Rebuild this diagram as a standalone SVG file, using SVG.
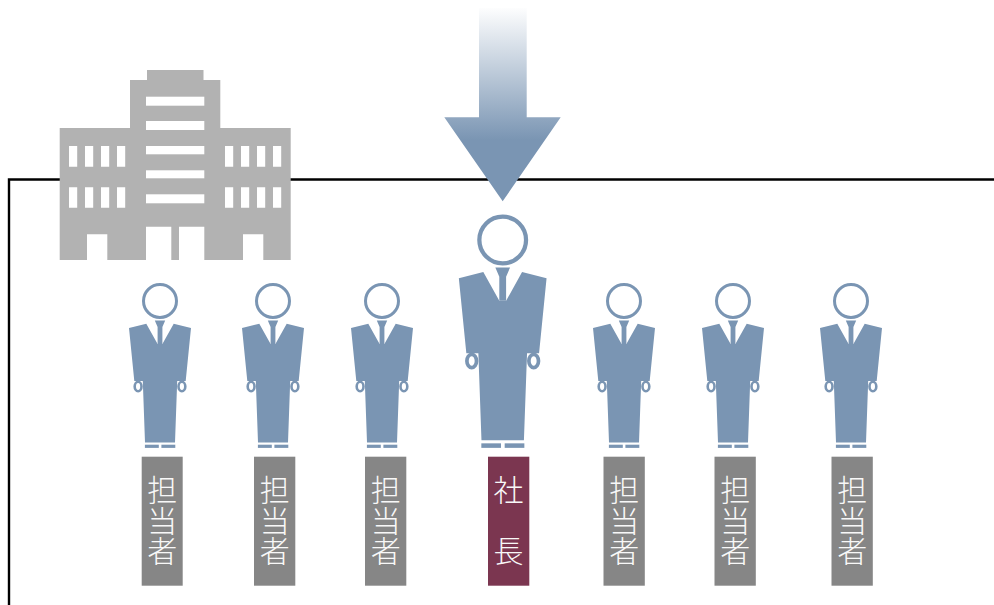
<svg xmlns="http://www.w3.org/2000/svg" xmlns:xlink="http://www.w3.org/1999/xlink" width="994" height="605" viewBox="0 0 994 605">
<style>
.p{fill:#7a95b3}
.h{fill:#fff;stroke:#7a95b3;stroke-width:3}
.r{fill:#fff;stroke:#7a95b3;stroke-width:2.6}
.b{fill:#b2b2b2}
.w{fill:#fff}
.g{fill:#868686}
.m{fill:#7b3650}
.t{font-family:"Noto Sans CJK JP","Noto Sans",sans-serif;font-size:30px;fill:#f8f8f8;text-anchor:middle;font-weight:300}
</style>
<defs>
<linearGradient id="ag" gradientUnits="userSpaceOnUse" x1="0" y1="6" x2="0" y2="140">
<stop offset="0" stop-color="#fff"/><stop offset="1" stop-color="#7a95b3"/>
</linearGradient>
<g id="person">
<circle class="h" cx="0" cy="0" r="16.5"/>
<path class="p" d="M-31,27 L-13.7,22.7 L-2.4,43 L2.4,43 L13.7,22.7 L31,27 L25.7,80 L17.2,80 L15,141.5 L-15,141.5 L-17.2,80 L-25.7,80 Z"/>
<path class="p" d="M-5.2,19.5 L5.2,19.5 L2.4,26 L2.4,43 L-2.4,43 L-2.4,26 Z"/>
<ellipse class="r" cx="-21.9" cy="85.5" rx="3.4" ry="4.7"/>
<ellipse class="r" cx="21.9" cy="85.5" rx="3.4" ry="4.7"/>
<rect class="p" x="-15.1" y="143.7" width="13.9" height="3.2"/>
<rect class="p" x="1.4" y="143.7" width="13.9" height="3.2"/>
</g>
</defs>
<g id="connectors">
<path d="M994,179.5 H9 V605" fill="none" stroke="#000" stroke-width="2.4"/>
</g>
<g id="building">
<path class="b" d="M59.7,128 H130 V80 H147 V70 H203.5 V80 H220.3 V128 H290.7 V260 H59.7 Z"/>
<rect class="w" x="146" y="96.7" width="58.3" height="9"/>
<rect class="w" x="146" y="121" width="58.3" height="9"/>
<rect class="w" x="146" y="146" width="58.3" height="8.3"/>
<rect class="w" x="146" y="170.3" width="58.3" height="8"/>
<rect class="w" x="146" y="194.3" width="58.3" height="9"/>
<path class="w" d="M69,146h8.2v20.7h-8.2zM85,146h8.2v20.7h-8.2zM101,146h8.2v20.7h-8.2zM117,146h8.2v20.7h-8.2zM225,146h8.2v20.7h-8.2zM241,146h8.2v20.7h-8.2zM257,146h8.2v20.7h-8.2zM273,146h8.2v20.7h-8.2zM69,187.3h8.2v20.4h-8.2zM85,187.3h8.2v20.4h-8.2zM101,187.3h8.2v20.4h-8.2zM117,187.3h8.2v20.4h-8.2zM225,187.3h8.2v20.4h-8.2zM241,187.3h8.2v20.4h-8.2zM257,187.3h8.2v20.4h-8.2zM273,187.3h8.2v20.4h-8.2z"/>
<path class="w" d="M87,234.3h20.3V260H87zM243,234.3h20.3V260H243zM146,226.7h25.3V260H146zM179,226.7h25.3V260H179z"/>
</g>
<g id="arrow">
<path fill="url(#ag)" d="M479,8 H526.7 V117.3 H560.7 L502.7,201.3 L444.3,117.3 H479 Z"/>
</g>
<g id="person1"><use href="#person" xlink:href="#person" transform="translate(160,301)"/><rect class="g" x="141.7" y="456.7" width="41" height="129"/><text class="t" x="162.2" y="501"><tspan x="162.2">担</tspan><tspan x="162.2" dy="30.7">当</tspan><tspan x="162.2" dy="30.7">者</tspan></text></g>
<g id="person2"><use href="#person" xlink:href="#person" transform="translate(273,301)"/><rect class="g" x="254" y="456.7" width="41.3" height="129"/><text class="t" x="274.7" y="501"><tspan x="274.7">担</tspan><tspan x="274.7" dy="30.7">当</tspan><tspan x="274.7" dy="30.7">者</tspan></text></g>
<g id="person3"><use href="#person" xlink:href="#person" transform="translate(382,301)"/><rect class="g" x="365" y="456.7" width="41.3" height="129"/><text class="t" x="385.7" y="501"><tspan x="385.7">担</tspan><tspan x="385.7" dy="30.7">当</tspan><tspan x="385.7" dy="30.7">者</tspan></text></g>
<g id="president"><use href="#person" xlink:href="#person" transform="translate(502.7,240) scale(1.415)"/><rect class="m" x="488" y="456.7" width="41.3" height="129"/><text class="t" x="508.5" y="501"><tspan x="508.5">社</tspan><tspan x="508.5" dy="61">長</tspan></text></g>
<g id="person4"><use href="#person" xlink:href="#person" transform="translate(624,301)"/><rect class="g" x="603.5" y="456.7" width="41.3" height="129"/><text class="t" x="624.2" y="501"><tspan x="624.2">担</tspan><tspan x="624.2" dy="30.7">当</tspan><tspan x="624.2" dy="30.7">者</tspan></text></g>
<g id="person5"><use href="#person" xlink:href="#person" transform="translate(733,301)"/><rect class="g" x="714.5" y="456.7" width="41.3" height="129"/><text class="t" x="735.2" y="501"><tspan x="735.2">担</tspan><tspan x="735.2" dy="30.7">当</tspan><tspan x="735.2" dy="30.7">者</tspan></text></g>
<g id="person6"><use href="#person" xlink:href="#person" transform="translate(851,301)"/><rect class="g" x="831.5" y="456.7" width="41.3" height="129"/><text class="t" x="852.2" y="501"><tspan x="852.2">担</tspan><tspan x="852.2" dy="30.7">当</tspan><tspan x="852.2" dy="30.7">者</tspan></text></g>
</svg>
